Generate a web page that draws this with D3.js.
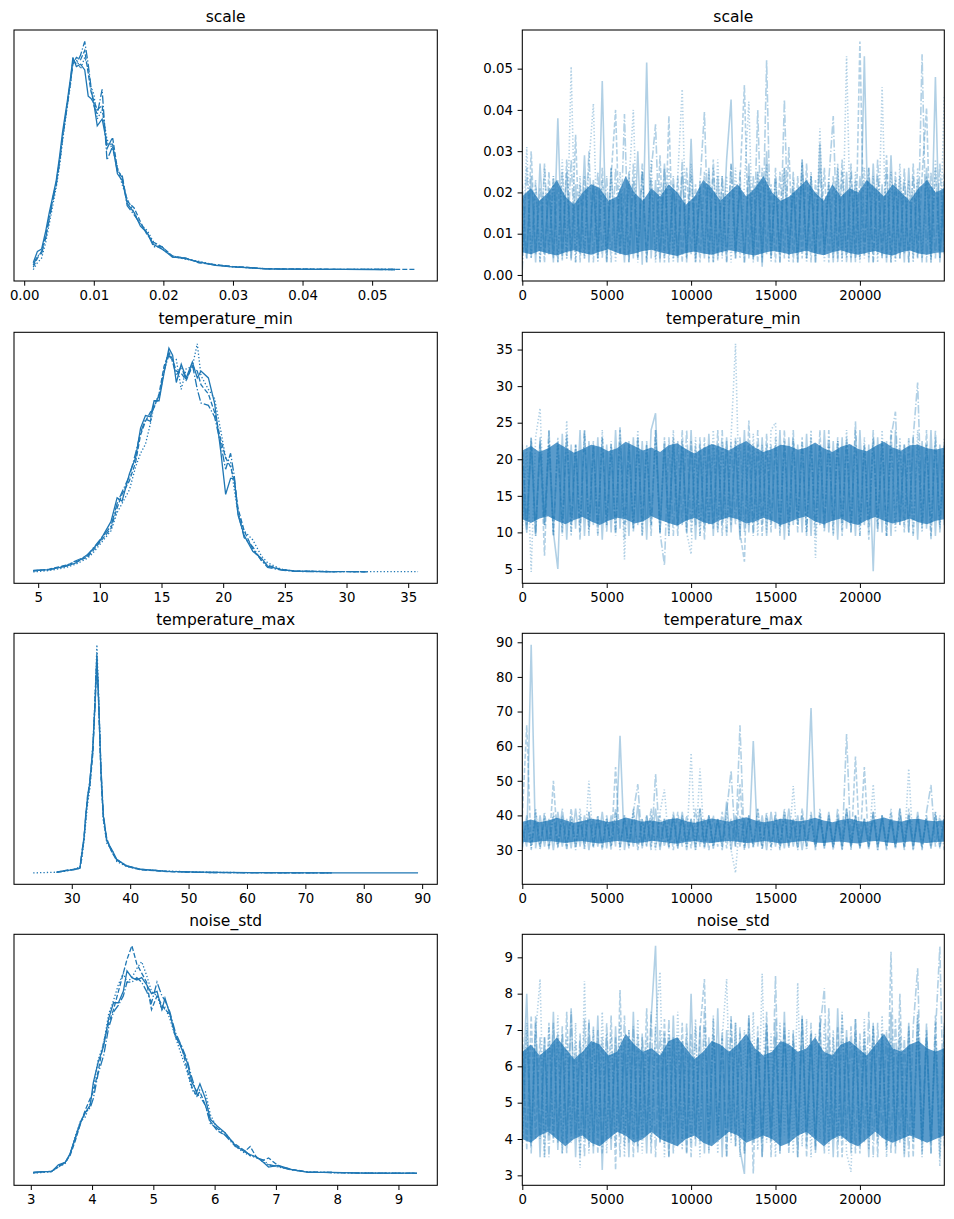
<!DOCTYPE html>
<html>
<head>
<meta charset="utf-8">
<script src="https://cdn.jsdelivr.net/npm/d3@7/dist/d3.min.js"></script>
<style>
  body { margin: 0; background: #fff; }
  svg text { font-family: "DejaVu Sans", sans-serif; fill: #000; }
</style>
</head>
<body>
<svg id="chart" width="954" height="1219"></svg>
<script>
// Trace plot: posterior KDE per chain (left) and sampled traces (right)

const chainDashes = [null, '5,2.1', '1.3,2.1', '8.4,2.1,1.3,2.1'];
const iterTicks = [0, 5000, 10000, 15000, 20000];
const nDraws = 24999;

// ---- scale ----
const scaleTicks = [0.00, 0.01, 0.02, 0.03, 0.04, 0.05];
const scaleKdeX = [0.0013, 0.0019, 0.0025, 0.0031, 0.0036, 0.0041, 0.0046, 0.0051, 0.0055, 0.0059, 0.0062, 0.0067, 0.0070, 0.0075, 0.0081, 0.0087, 0.0092, 0.0096, 0.0100, 0.0105, 0.0112, 0.0119, 0.0127, 0.0134, 0.0141, 0.0148, 0.0158, 0.0167, 0.0177, 0.0186, 0.0198, 0.0213, 0.0232, 0.0251, 0.0275, 0.0299, 0.0325, 0.0347, 0.0380, 0.0420, 0.0460, 0.0500, 0.0533, 0.0562];
const scaleKde = [
  [0.03, 0.08, 0.09, 0.17, 0.25, 0.32, 0.39, 0.50, 0.60, 0.68, 0.74, 0.85, 0.93, 0.89, 0.90, 0.875, 0.76, 0.75, 0.73, 0.63, 0.66, 0.55, 0.55, 0.42, 0.39, 0.29, 0.25, 0.19, 0.16, 0.11, 0.09, 0.056, 0.048, 0.034, 0.019, 0.012, 0.008, 0.003, 0.002, 0.001, 0.001, 0.0005, 0.0003, null],
  [0.01, 0.05, 0.08, 0.15, 0.23, 0.31, 0.38, 0.48, 0.58, 0.66, 0.73, 0.83, 0.90, 0.93, 0.92, 0.96, 0.86, 0.78, 0.74, 0.70, 0.72, 0.53, 0.58, 0.44, 0.40, 0.30, 0.27, 0.21, 0.15, 0.12, 0.10, 0.06, 0.05, 0.03, 0.022, 0.014, 0.009, 0.004, 0.003, 0.002, 0.001, 0.001, 0.0008, 0.0005],
  [0.0, 0.03, 0.05, 0.12, 0.20, 0.28, 0.36, 0.46, 0.56, 0.65, 0.72, 0.82, 0.91, 0.92, 0.88, 0.93, 0.88, 0.80, 0.77, 0.66, 0.70, 0.57, 0.53, 0.45, 0.37, 0.31, 0.25, 0.20, 0.17, 0.12, 0.09, 0.06, 0.045, 0.036, 0.02, 0.013, 0.007, 0.004, 0.002, 0.0015, 0.001, 0.0008, 0.0004, null],
  [0.02, 0.06, 0.07, 0.14, 0.22, 0.30, 0.37, 0.47, 0.57, 0.66, 0.72, 0.84, 0.92, 0.90, 0.94, 1.0, 0.90, 0.80, 0.72, 0.68, 0.79, 0.48, 0.54, 0.43, 0.41, 0.28, 0.24, 0.20, 0.16, 0.10, 0.10, 0.055, 0.05, 0.032, 0.02, 0.012, 0.008, 0.003, 0.002, 0.001, 0.001, 0.0006, 0.0003, null]
];
const scaleCoreLo = [0.0055, 0.005, 0.0058, 0.0052, 0.0047, 0.0055, 0.006, 0.0053, 0.0049, 0.0056, 0.0062, 0.0054, 0.0048, 0.0052, 0.0058, 0.0061, 0.0055, 0.005, 0.0046, 0.0053, 0.0057, 0.0052, 0.0049, 0.0055, 0.006, 0.0056, 0.0051, 0.0047, 0.0053, 0.0058, 0.0055, 0.005, 0.0054, 0.0059, 0.0052, 0.0048, 0.0055, 0.006, 0.0053, 0.0049, 0.0054, 0.0058, 0.0051, 0.0047, 0.0055, 0.0059, 0.0052, 0.0049, 0.0054, 0.0055];
const scaleCoreHi = [0.019, 0.021, 0.018, 0.020, 0.023, 0.019, 0.017, 0.020, 0.022, 0.021, 0.018, 0.019, 0.024, 0.020, 0.018, 0.021, 0.019, 0.022, 0.020, 0.017, 0.019, 0.023, 0.021, 0.018, 0.020, 0.022, 0.019, 0.021, 0.024, 0.020, 0.018, 0.019, 0.021, 0.023, 0.020, 0.018, 0.022, 0.019, 0.021, 0.020, 0.023, 0.021, 0.019, 0.022, 0.020, 0.018, 0.021, 0.023, 0.020, 0.021];
const scaleTrace = [
  [0.012, 0.004, 0.024, 0.003, 0.027, 0.005, 0.021, 0.003, 0.038, 0.004, 0.025, 0.0035, 0.022, 0.005, 0.029, 0.003,
   0.023, 0.004, 0.047, 0.003, 0.026, 0.005, 0.021, 0.003, 0.025, 0.004, 0.030, 0.0025, 0.0515, 0.004, 0.023, 0.003,
   0.027, 0.005, 0.022, 0.003, 0.025, 0.004, 0.033, 0.003, 0.021, 0.004, 0.026, 0.003, 0.024, 0.005, 0.028, 0.0425,
   0.004, 0.022, 0.003, 0.027, 0.004, 0.025, 0.002, 0.030, 0.004, 0.023, 0.003, 0.026, 0.005, 0.021, 0.003, 0.028,
   0.004, 0.024, 0.003, 0.032, 0.005, 0.022, 0.003, 0.026, 0.004, 0.025, 0.003, 0.023, 0.004, 0.053, 0.003, 0.027,
   0.005, 0.022, 0.003, 0.029, 0.004, 0.024, 0.003, 0.026, 0.004, 0.023, 0.003, 0.026, 0.004, 0.048, 0.003, 0.022],
  [0.022, 0.004, 0.030, 0.005, 0.021, 0.003, 0.025, 0.004, 0.023, 0.0035, 0.028, 0.004, 0.034, 0.003, 0.024, 0.005,
   0.022, 0.004, 0.026, 0.003, 0.024, 0.040, 0.005, 0.021, 0.003, 0.027, 0.004, 0.025, 0.003, 0.023, 0.004, 0.029,
   0.003, 0.0385, 0.004, 0.024, 0.003, 0.026, 0.005, 0.022, 0.003, 0.025, 0.004, 0.028, 0.0035, 0.024, 0.003, 0.027,
   0.004, 0.023, 0.046, 0.004, 0.024, 0.003, 0.026, 0.005, 0.022, 0.003, 0.025, 0.004, 0.031, 0.003, 0.024, 0.004,
   0.027, 0.003, 0.023, 0.005, 0.026, 0.003, 0.024, 0.004, 0.028, 0.003, 0.025, 0.004, 0.0566, 0.005, 0.026, 0.003,
   0.024, 0.004, 0.029, 0.003, 0.025, 0.004, 0.023, 0.003, 0.027, 0.004, 0.024, 0.0405, 0.003, 0.026, 0.004, 0.025],
  [0.003, 0.031, 0.004, 0.022, 0.003, 0.026, 0.005, 0.024, 0.003, 0.028, 0.004, 0.0505, 0.003, 0.024, 0.004, 0.027,
   0.0415, 0.003, 0.023, 0.004, 0.026, 0.003, 0.025, 0.005, 0.022, 0.040, 0.003, 0.025, 0.004, 0.028, 0.003, 0.022,
   0.004, 0.026, 0.003, 0.024, 0.045, 0.004, 0.027, 0.003, 0.023, 0.005, 0.025, 0.003, 0.028, 0.004, 0.024, 0.003,
   0.026, 0.004, 0.022, 0.042, 0.003, 0.025, 0.004, 0.027, 0.003, 0.024, 0.005, 0.026, 0.003, 0.023, 0.004, 0.028,
   0.003, 0.025, 0.004, 0.0355, 0.003, 0.024, 0.004, 0.027, 0.003, 0.053, 0.004, 0.025, 0.003, 0.026, 0.004, 0.024,
   0.003, 0.0455, 0.004, 0.025, 0.003, 0.027, 0.005, 0.023, 0.003, 0.026, 0.004, 0.024, 0.003, 0.028, 0.004, 0.0435],
  [0.0013, 0.026, 0.004, 0.023, 0.003, 0.027, 0.005, 0.024, 0.003, 0.025, 0.004, 0.028, 0.003, 0.022, 0.004, 0.030,
   0.003, 0.025, 0.004, 0.024, 0.003, 0.026, 0.005, 0.039, 0.003, 0.023, 0.004, 0.027, 0.003, 0.025, 0.0365, 0.004,
   0.026, 0.003, 0.024, 0.004, 0.028, 0.003, 0.025, 0.004, 0.022, 0.0395, 0.003, 0.026, 0.004, 0.024, 0.003, 0.027,
   0.005, 0.025, 0.003, 0.024, 0.004, 0.040, 0.003, 0.052, 0.004, 0.026, 0.003, 0.0425, 0.004, 0.025, 0.003, 0.027,
   0.004, 0.024, 0.003, 0.026, 0.005, 0.023, 0.0385, 0.003, 0.025, 0.004, 0.027, 0.003, 0.024, 0.004, 0.026, 0.003,
   0.028, 0.004, 0.025, 0.003, 0.023, 0.004, 0.026, 0.003, 0.024, 0.004, 0.0535, 0.003, 0.025, 0.004, 0.027, 0.005]
];

// ---- temperature_min ----
const tminTicks = [5, 10, 15, 20, 25, 30, 35];
const tminKdeX = [4.6, 5.9, 7.3, 8.1, 9.0, 9.4, 10.0, 10.9, 11.4, 11.8, 12.4, 12.9, 13.3, 13.7, 14.1, 14.4, 14.8, 15.2, 15.6, 15.9, 16.2, 16.6, 17.0, 17.5, 17.9, 18.2, 18.8, 19.3, 19.8, 20.2, 20.6, 20.9, 21.2, 21.7, 22.4, 23.1, 23.6, 24.7, 25.8, 29.1, 31.7, 35.8];
const tminKde = [
  [0.006, 0.01, 0.025, 0.04, 0.076, 0.098, 0.135, 0.22, 0.325, 0.31, 0.43, 0.50, 0.63, 0.685, 0.68, 0.75, 0.75, 0.87, 0.98, 0.95, 0.83, 0.91, 0.85, 0.92, 0.85, 0.88, 0.85, 0.74, 0.53, 0.34, 0.41, 0.41, 0.25, 0.16, 0.09, 0.06, 0.025, 0.01, 0.003, 0.0, null, null],
  [0.004, 0.012, 0.03, 0.045, 0.065, 0.09, 0.13, 0.19, 0.28, 0.34, 0.40, 0.48, 0.60, 0.66, 0.70, 0.72, 0.78, 0.90, 0.96, 0.93, 0.88, 0.87, 0.84, 0.90, 0.88, 0.82, 0.78, 0.70, 0.58, 0.50, 0.46, 0.40, 0.28, 0.18, 0.10, 0.05, 0.03, 0.01, 0.004, 0.001, 0.0005, null],
  [0.0, 0.006, 0.02, 0.035, 0.06, 0.08, 0.12, 0.18, 0.26, 0.30, 0.36, 0.46, 0.52, 0.56, 0.65, 0.73, 0.76, 0.88, 0.97, 0.92, 0.93, 0.80, 0.89, 0.90, 1.0, 0.86, 0.80, 0.76, 0.62, 0.50, 0.48, 0.36, 0.26, 0.18, 0.14, 0.07, 0.04, 0.012, 0.004, 0.001, 0.001, 0.001],
  [0.005, 0.01, 0.028, 0.05, 0.07, 0.10, 0.14, 0.20, 0.30, 0.35, 0.42, 0.52, 0.61, 0.67, 0.66, 0.74, 0.77, 0.88, 0.95, 0.92, 0.86, 0.90, 0.84, 0.91, 0.80, 0.74, 0.73, 0.68, 0.56, 0.45, 0.52, 0.42, 0.26, 0.15, 0.11, 0.05, 0.02, 0.008, 0.002, 0.001, 0.0005, null]
];
const tminCoreLo = [11.8, 11.3, 11.9, 12.2, 11.6, 11.1, 11.7, 12.1, 11.5, 11.0, 11.6, 12.0, 11.8, 11.2, 11.5, 12.2, 11.7, 11.3, 10.9, 11.6, 12.0, 11.4, 11.1, 11.7, 12.1, 11.8, 11.2, 11.5, 12.0, 11.6, 11.0, 11.4, 11.9, 12.2, 11.5, 11.1, 11.6, 11.9, 11.3, 11.0, 11.7, 12.1, 11.6, 11.2, 11.5, 11.9, 11.4, 11.1, 11.6, 11.8];
const tminCoreHi = [21.2, 21.8, 21.0, 21.5, 22.3, 21.6, 20.9, 21.4, 22.0, 21.7, 21.1, 21.5, 22.4, 21.8, 21.2, 21.6, 21.0, 21.9, 22.2, 21.4, 20.8, 21.5, 22.1, 21.7, 21.2, 21.9, 22.5, 21.6, 21.0, 21.4, 22.0, 21.8, 21.3, 21.6, 22.3, 21.5, 21.0, 21.7, 22.1, 21.4, 21.1, 21.8, 22.4, 21.6, 21.2, 21.9, 22.0, 21.5, 21.3, 21.6];
const tminTrace = [
  [16, 10, 22.5, 9.5, 23, 11, 22, 10, 5.0, 23.5, 9, 22, 10.5, 24, 9.5, 22.5,
   11, 23, 9, 22, 10, 24, 10.5, 22, 9.5, 23, 11, 22.5, 9, 24, 26.3, 10,
   22, 9.5, 23, 11, 22.5, 10, 24, 9, 22, 10.5, 23.5, 9.5, 22, 11, 23, 10,
   22.5, 9, 24, 10, 22, 11, 23, 9.5, 22, 10.5, 24, 9, 23, 11, 22, 10,
   23.5, 9.5, 22, 11, 24, 10, 22.5, 9, 23, 10.5, 22, 9.5, 24, 11, 22, 4.7,
   23, 10, 22.5, 9.5, 24, 11, 22, 10, 23, 9, 22.5, 10.5, 24, 9.5, 22, 11],
  [22, 11, 23, 10, 22.5, 6.8, 24, 9.5, 22, 11, 23.5, 10, 22, 9, 24, 10.5,
   22.5, 9.5, 23, 11, 22, 10, 24.5, 9, 22, 10.5, 23, 11, 22.5, 9.5, 24, 10,
   23, 11, 22, 9.5, 24, 10, 22.5, 11, 23, 9, 22, 10.5, 24, 9.5, 22.5, 11,
   23, 10, 6.0, 25.3, 10, 22, 9.5, 23.5, 11, 22, 10, 24, 9.5, 22.5, 11, 23,
   10, 22, 9.5, 24, 10.5, 22, 11, 23, 9.5, 22.5, 10, 24, 11, 22, 9, 23,
   10.5, 22.5, 9.5, 24, 11, 22, 10, 23, 9.5, 22, 10.5, 24, 9, 22.5, 11, 22],
  [10, 22, 4.6, 23, 27, 11, 22.5, 9.5, 23, 10, 25.3, 9.5, 22, 11, 23.5, 10,
   22, 9.5, 24, 11, 22.5, 10, 23, 6.3, 22, 10.5, 24, 9.5, 22, 11, 23, 10,
   22.5, 9.5, 24, 11, 22, 10, 7.0, 23, 9.5, 22, 11, 24, 10, 22.5, 9.5, 23,
   35.8, 10, 22, 11, 23.5, 9.5, 22, 10, 24, 25, 10.5, 22, 9.5, 23, 11, 22.5,
   10, 24, 6.5, 22, 11, 23, 9.5, 22.5, 10, 24, 11, 22, 9.5, 23, 10, 22.5,
   11, 24, 9.5, 22, 10, 23, 11, 22.5, 9.5, 24, 10, 22, 11, 23, 10.5, 23],
  [21, 10, 23, 9.5, 22, 11, 24, 10, 22.5, 9.5, 23, 11, 22, 10, 24, 9.5,
   22, 11, 23, 10, 22, 9.5, 24, 11, 22.5, 10, 23, 9.5, 22, 11, 24, 10,
   5.5, 23, 9.5, 22.5, 11, 24, 10, 22, 9.5, 23, 11, 22, 10, 24, 9.5, 22.5,
   11, 23, 10, 22, 9.5, 24, 11, 22, 10, 23, 9.5, 22.5, 11, 24, 10, 22,
   9.5, 23, 11, 22, 10, 24, 9.5, 22.5, 11, 23, 10, 25.2, 9.5, 22, 11, 24,
   10, 22.5, 9.5, 23, 26.5, 11, 22, 10, 23, 30.5, 11, 22, 9.5, 24, 10, 22]
];

// ---- temperature_max ----
const tmaxTicks = [30, 40, 50, 60, 70, 80, 90];
const tmaxKdeX = [23.4, 27.4, 29.1, 30.5, 31.4, 31.7, 32.1, 32.4, 32.7, 33.1, 33.6, 34.0, 34.3, 34.6, 35.0, 35.4, 36.0, 36.9, 37.7, 39.4, 41.7, 46.3, 52.0, 60.5, 74.8, 89.3];
const tmaxKde = [
  [null, 0.002, 0.01, 0.015, 0.022, 0.08, 0.15, 0.26, 0.32, 0.40, 0.55, 0.75, 0.94, 0.76, 0.45, 0.25, 0.14, 0.10, 0.06, 0.03, 0.016, 0.007, 0.003, 0.001, 0.0, 0.0],
  [null, 0.003, 0.012, 0.014, 0.02, 0.07, 0.16, 0.24, 0.34, 0.38, 0.52, 0.78, 0.96, 0.74, 0.42, 0.24, 0.15, 0.09, 0.055, 0.03, 0.014, 0.006, 0.002, 0.001, 0.0, null],
  [0.0, 0.003, 0.008, 0.018, 0.025, 0.06, 0.14, 0.22, 0.30, 0.37, 0.56, 0.77, 1.0, 0.78, 0.44, 0.23, 0.13, 0.10, 0.05, 0.028, 0.015, 0.008, 0.003, 0.001, null, null],
  [null, 0.002, 0.011, 0.016, 0.02, 0.09, 0.15, 0.25, 0.33, 0.41, 0.53, 0.74, 0.93, 0.75, 0.46, 0.26, 0.14, 0.09, 0.058, 0.032, 0.016, 0.007, 0.002, 0.0005, 0.0, null]
];
const tmaxCoreLo = [32.4, 32.1, 32.5, 32.7, 32.3, 32.0, 32.4, 32.6, 32.2, 31.9, 32.3, 32.6, 32.4, 32.0, 32.2, 32.7, 32.4, 32.1, 31.8, 32.3, 32.6, 32.2, 32.0, 32.4, 32.6, 32.4, 32.0, 32.2, 32.6, 32.3, 31.9, 32.2, 32.5, 32.7, 32.2, 32.0, 32.3, 32.5, 32.1, 31.9, 32.4, 32.6, 32.3, 32.0, 32.2, 32.5, 32.2, 32.0, 32.3, 32.4];
const tmaxCoreHi = [38.2, 38.8, 38.0, 38.5, 39.3, 38.6, 37.9, 38.4, 39.0, 38.7, 38.1, 38.5, 39.4, 38.8, 38.2, 38.6, 38.0, 38.9, 39.2, 38.4, 37.8, 38.5, 39.1, 38.7, 38.2, 38.9, 39.5, 38.6, 38.0, 38.4, 39.0, 38.8, 38.3, 38.6, 39.3, 38.5, 38.0, 38.7, 39.1, 38.4, 38.1, 38.8, 39.4, 38.6, 38.2, 38.9, 39.0, 38.5, 38.3, 38.6];
const tmaxTrace = [
  [36, 31, 89.3, 30.5, 40, 31, 39, 30, 41, 31, 39, 30.5, 42, 31, 40, 30,
   39, 31, 41, 30.5, 40, 31, 63, 30, 39, 31, 43, 30.5, 40, 31, 42, 30,
   39, 31, 40, 30.5, 41, 31, 39, 30, 42, 31, 40, 30.5, 39, 31, 44, 30,
   40, 31, 39, 30.5, 61.5, 31, 40, 30, 41, 31, 39, 30.5, 42, 31, 40, 30,
   39, 71, 31, 40, 30.5, 41, 31, 39, 30, 42, 31, 40, 30.5, 39, 31, 41,
   30, 40, 31, 39, 30.5, 42, 31, 40, 30, 41, 31, 39, 30.5, 40, 31, 39],
  [40, 66, 30, 41, 31, 39, 30.5, 50, 31, 40, 30, 42, 31, 39, 30.5, 41,
   31, 40, 30, 39, 31, 54, 30.5, 40, 31, 41, 30, 39, 31, 42, 30.5, 40,
   31, 39, 30, 41, 31, 40, 30.5, 42, 31, 39, 30, 40, 31, 41, 30.5, 39,
   31, 49, 30, 40, 31, 42, 30.5, 39, 31, 41, 30, 40, 31, 39, 30.5, 42,
   31, 40, 30, 41, 31, 39, 30.5, 40, 31, 42, 30, 57, 31, 54, 30.5, 40,
   31, 39, 30, 41, 31, 40, 30.5, 42, 31, 39, 30, 40, 31, 41, 30.5, 39],
  [31, 39, 30.5, 42, 31, 40, 30, 41, 31, 39, 30.5, 40, 31, 42, 30, 50,
   31, 40, 30.5, 39, 31, 41, 30, 40, 31, 42, 30.5, 39, 31, 40, 30, 41,
   47.5, 31, 39, 30.5, 40, 31, 58, 30, 53.5, 31, 40, 30.5, 39, 31, 41, 30,
   23.4, 40, 31, 39, 30.5, 42, 31, 40, 30, 39, 31, 41, 30.5, 48.5, 31, 40,
   30, 39, 31, 42, 30.5, 40, 31, 39, 30, 41, 31, 40, 30.5, 39, 31, 49,
   30, 40, 31, 42, 30.5, 39, 31, 53.5, 30, 40, 31, 39, 30.5, 41, 31, 40],
  [30.5, 40, 31, 39, 30, 41, 31, 40, 30.5, 42, 31, 39, 30, 40, 31, 41,
   30.5, 39, 31, 40, 30, 42, 31, 39, 30.5, 41, 49, 31, 40, 30, 52, 31,
   39, 30.5, 41, 31, 40, 30, 39, 31, 42, 30.5, 40, 31, 39, 30, 41, 53,
   31, 66, 30.5, 40, 31, 39, 30, 41, 31, 40, 30.5, 42, 31, 39, 30, 40,
   31, 41, 30.5, 39, 31, 40, 30, 42, 31, 63.5, 30.5, 40, 31, 39, 30, 41,
   31, 40, 30.5, 39, 31, 42, 30, 40, 31, 39, 30.5, 41, 48.8, 31, 40, 30]
];

// ---- noise_std ----
const noiseTicks = [3, 4, 5, 6, 7, 8, 9];
const noiseKdeX = [3.04, 3.18, 3.34, 3.45, 3.56, 3.64, 3.72, 3.81, 3.89, 3.97, 4.02, 4.10, 4.19, 4.27, 4.35, 4.43, 4.51, 4.57, 4.65, 4.73, 4.81, 4.89, 4.97, 5.06, 5.14, 5.19, 5.27, 5.36, 5.46, 5.55, 5.63, 5.71, 5.76, 5.85, 5.93, 6.04, 6.17, 6.34, 6.50, 6.58, 6.69, 6.80, 6.88, 7.04, 7.26, 7.53, 7.91, 8.46, 9.30];
const noiseKde = [
  [0.007, 0.01, 0.01, 0.04, 0.05, 0.088, 0.154, 0.227, 0.27, 0.30, 0.40, 0.49, 0.56, 0.68, 0.75, 0.75, 0.80, 0.89, 0.86, 0.85, 0.86, 0.83, 0.79, 0.80, 0.72, 0.77, 0.70, 0.61, 0.55, 0.49, 0.40, 0.36, 0.395, 0.33, 0.24, 0.21, 0.18, 0.124, 0.095, 0.085, 0.073, 0.05, 0.03, 0.037, 0.019, 0.007, 0.007, 0.003, 0.003],
  [0.005, 0.008, 0.012, 0.03, 0.05, 0.08, 0.14, 0.22, 0.28, 0.33, 0.36, 0.45, 0.58, 0.66, 0.72, 0.80, 0.88, 0.94, 1.0, 0.92, 0.88, 0.84, 0.72, 0.78, 0.74, 0.72, 0.70, 0.60, 0.56, 0.46, 0.38, 0.34, 0.36, 0.30, 0.23, 0.19, 0.17, 0.13, 0.10, 0.12, 0.07, 0.06, 0.07, 0.035, 0.02, 0.008, 0.006, 0.003, 0.002],
  [0.004, 0.006, 0.01, 0.03, 0.045, 0.085, 0.16, 0.23, 0.25, 0.31, 0.38, 0.50, 0.57, 0.70, 0.76, 0.83, 0.88, 0.84, 0.86, 0.90, 0.93, 0.87, 0.80, 0.78, 0.72, 0.73, 0.68, 0.60, 0.52, 0.45, 0.37, 0.34, 0.37, 0.36, 0.26, 0.20, 0.18, 0.12, 0.09, 0.08, 0.075, 0.05, 0.04, 0.03, 0.018, 0.008, 0.006, 0.004, 0.002],
  [0.006, 0.009, 0.011, 0.035, 0.05, 0.085, 0.15, 0.22, 0.27, 0.29, 0.33, 0.44, 0.52, 0.64, 0.71, 0.74, 0.78, 0.84, 0.84, 0.86, 0.84, 0.80, 0.75, 0.84, 0.78, 0.76, 0.71, 0.62, 0.56, 0.50, 0.42, 0.35, 0.34, 0.30, 0.22, 0.20, 0.17, 0.12, 0.10, 0.08, 0.07, 0.06, 0.04, 0.032, 0.017, 0.008, 0.006, 0.003, 0.003]
];
const noiseCoreLo = [4.0, 3.9, 4.1, 4.2, 4.0, 3.8, 4.0, 4.1, 3.9, 3.8, 4.0, 4.2, 4.1, 3.9, 4.0, 4.2, 4.0, 3.9, 3.8, 4.0, 4.1, 3.9, 3.8, 4.0, 4.2, 4.1, 3.9, 4.0, 4.1, 4.0, 3.8, 3.9, 4.1, 4.2, 4.0, 3.8, 4.0, 4.1, 3.9, 3.8, 4.0, 4.2, 4.0, 3.9, 4.0, 4.1, 4.0, 3.9, 4.0, 4.1];
const noiseCoreHi = [6.4, 6.6, 6.3, 6.5, 6.8, 6.5, 6.2, 6.4, 6.7, 6.6, 6.3, 6.4, 6.9, 6.6, 6.4, 6.5, 6.3, 6.7, 6.8, 6.5, 6.2, 6.4, 6.7, 6.6, 6.4, 6.6, 6.9, 6.5, 6.3, 6.4, 6.7, 6.6, 6.4, 6.5, 6.8, 6.4, 6.3, 6.6, 6.7, 6.5, 6.3, 6.6, 6.9, 6.5, 6.4, 6.6, 6.7, 6.5, 6.4, 6.5];
const noiseTrace = [
  [5, 8.0, 3.8, 7.2, 3.5, 6.8, 4.1, 7.5, 3.7, 6.9, 3.9, 7.6, 3.5, 6.7, 4.0, 7.2,
   3.6, 7.4, 3.15, 6.9, 3.7, 7.1, 4.1, 6.6, 3.5, 7.5, 3.8, 6.8, 3.6, 7.3, 9.32, 3.9,
   6.9, 3.5, 7.4, 3.8, 6.7, 3.6, 8.0, 4.0, 7.1, 3.6, 6.8, 3.9, 7.6, 3.5, 7.0, 4.1,
   7.2, 3.7, 3.04, 7.4, 3.9, 6.8, 3.5, 7.1, 4.0, 7.3, 3.6, 7.5, 3.8, 6.7, 3.5, 7.4,
   4.1, 6.9, 3.7, 7.2, 3.9, 6.8, 3.5, 7.6, 4.0, 7.0, 3.6, 7.3, 3.8, 6.7, 3.5, 7.1,
   4.1, 6.9, 3.7, 7.5, 3.8, 6.8, 3.5, 7.2, 4.0, 7.4, 3.6, 7.0, 3.9, 6.7, 3.5, 7.2],
  [7.0, 3.7, 7.4, 4.0, 6.8, 3.5, 7.2, 3.9, 6.9, 3.6, 7.5, 4.1, 6.7, 3.5, 7.3, 3.8,
   7.1, 3.6, 6.8, 4.0, 7.4, 3.15, 8.1, 3.8, 7.0, 3.5, 6.9, 4.1, 7.6, 3.6, 7.1, 3.9,
   7.3, 3.5, 6.8, 4.0, 7.2, 3.6, 6.9, 3.8, 7.0, 8.4, 3.7, 7.3, 4.1, 6.8, 3.5, 7.4,
   3.8, 6.9, 3.6, 7.2, 3.05, 7.1, 4.0, 7.5, 3.5, 6.8, 3.9, 7.2, 3.6, 7.0, 4.1, 7.3,
   3.5, 6.9, 3.8, 7.4, 3.6, 7.6, 4.0, 7.1, 3.5, 6.8, 3.9, 7.3, 3.6, 7.0, 4.1, 7.2,
   3.5, 6.9, 3.8, 9.15, 3.6, 8.0, 4.0, 7.1, 3.5, 7.2, 3.9, 6.8, 3.6, 7.4, 4.0, 7.1],
  [3.7, 7.2, 3.9, 6.9, 8.4, 3.5, 7.1, 4.0, 7.4, 3.6, 6.8, 3.9, 7.2, 3.2, 8.35, 3.6,
   7.0, 4.1, 7.5, 3.6, 6.9, 3.8, 7.2, 3.5, 7.0, 4.0, 7.3, 3.6, 6.8, 3.9, 7.1, 8.6,
   3.5, 7.0, 4.0, 7.5, 3.7, 6.9, 3.9, 7.3, 3.5, 7.1, 4.1, 7.4, 3.6, 6.8, 8.4, 3.9,
   7.2, 3.5, 7.0, 4.0, 7.5, 3.7, 8.55, 3.9, 6.9, 3.5, 7.2, 4.1, 7.0, 3.6, 8.3, 3.8,
   7.3, 3.5, 6.9, 4.0, 7.2, 3.6, 7.0, 3.9, 7.5, 3.6, 3.1, 6.9, 4.0, 7.3, 3.7, 7.1,
   3.9, 7.4, 3.5, 6.8, 4.1, 7.2, 3.6, 7.0, 3.9, 7.5, 3.5, 6.9, 4.0, 7.2, 3.25, 7.0],
  [3.9, 7.0, 3.6, 7.4, 4.0, 6.8, 3.5, 7.2, 3.9, 7.1, 3.6, 7.5, 4.1, 6.9, 3.5, 7.3,
   3.8, 7.0, 3.6, 7.2, 4.0, 6.8, 3.5, 7.4, 3.9, 7.1, 3.6, 6.9, 4.1, 7.5, 3.5, 7.0,
   3.8, 7.3, 3.6, 6.8, 4.0, 7.2, 3.5, 7.1, 3.9, 7.6, 3.6, 6.9, 4.1, 7.0, 3.5, 7.3,
   3.8, 7.1, 3.6, 7.4, 4.0, 6.8, 3.5, 7.2, 3.9, 8.5, 3.6, 7.0, 4.1, 6.9, 3.5, 7.3,
   3.8, 7.2, 3.6, 7.0, 8.15, 3.9, 6.8, 3.5, 7.4, 4.0, 7.1, 3.6, 6.9, 3.9, 7.5, 3.5,
   7.2, 4.0, 7.0, 3.6, 7.3, 3.9, 6.8, 3.5, 7.1, 8.7, 4.0, 7.2, 3.6, 6.9, 9.3, 3.8]
];

const params = [
  { name: 'scale', ticks: scaleTicks, fmt: d3.format('.2f'), kdeX: scaleKdeX, kde: scaleKde, trace: scaleTrace, lo: scaleCoreLo, hi: scaleCoreHi },
  { name: 'temperature_min', ticks: tminTicks, fmt: d3.format('d'), kdeX: tminKdeX, kde: tminKde, trace: tminTrace, lo: tminCoreLo, hi: tminCoreHi },
  { name: 'temperature_max', ticks: tmaxTicks, fmt: d3.format('d'), kdeX: tmaxKdeX, kde: tmaxKde, trace: tmaxTrace, lo: tmaxCoreLo, hi: tmaxCoreHi },
  { name: 'noise_std', ticks: noiseTicks, fmt: d3.format('d'), kdeX: noiseKdeX, kde: noiseKde, trace: noiseTrace, lo: noiseCoreLo, hi: noiseCoreHi }
];

// Layout
const rowTops = [30, 332.3, 633.3, 934.3];
const panelH = 251;
const leftX = 14, leftW = 423.3;
const rightX = 522.3, rightW = 422;
const tickLen = 4.7, tickPad = 4.7;
const color = '#1f77b4';

const svg = d3.select('#chart');

// matplotlib-like 5% margins around data
function padded(min, max) {
  const r = max - min;
  return [min - 0.05 * r, max + 0.05 * r];
}

function styleAxis(g) {
  g.select('.domain').remove();
  g.selectAll('.tick line').attr('stroke', '#000').attr('stroke-width', 1);
  g.selectAll('.tick text').style('font-size', '13.3px').attr('fill', '#000');
}

function frame(g, w, h) {
  g.append('rect')
    .attr('x', 0).attr('y', 0)
    .attr('width', w).attr('height', h)
    .attr('fill', 'none')
    .attr('stroke', '#000')
    .attr('stroke-width', 1.05);
}

function title(g, w, text) {
  g.append('text')
    .attr('x', w / 2)
    .attr('y', -8.3)
    .attr('text-anchor', 'middle')
    .style('font-size', '15.5px')
    .text(text);
}

params.forEach((p, row) => {
  const top = rowTops[row];
  const allVals = p.trace.flat();
  const valDomain = padded(d3.min(allVals), d3.max(allVals));

  // ---- left: KDE per chain ----
  const gl = svg.append('g').attr('transform', `translate(${leftX},${top})`);
  const x = d3.scaleLinear().domain(valDomain).range([0, leftW]);
  const kdeMax = d3.max(p.kde.flat().filter(v => v !== null));
  const y = d3.scaleLinear().domain(padded(0, kdeMax)).range([panelH, 0]);

  const kdeLine = d3.line()
    .defined(d => d !== null)
    .x((d, i) => x(p.kdeX[i]))
    .y(d => y(d));

  p.kde.forEach((chain, c) => {
    gl.append('path')
      .datum(chain)
      .attr('fill', 'none')
      .attr('stroke', color)
      .attr('stroke-width', 1.3)
      .attr('stroke-dasharray', chainDashes[c])
      .attr('d', kdeLine);
  });

  gl.append('g')
    .attr('transform', `translate(0,${panelH})`)
    .call(d3.axisBottom(x).tickValues(p.ticks).tickFormat(p.fmt).tickSize(tickLen).tickPadding(tickPad))
    .call(styleAxis);
  frame(gl, leftW, panelH);
  title(gl, leftW, p.name);

  // ---- right: traces ----
  const gr = svg.append('g').attr('transform', `translate(${rightX},${top})`);
  const clipId = `clip-${row}`;
  gr.append('clipPath').attr('id', clipId)
    .append('rect').attr('width', rightW).attr('height', panelH);

  const xi = d3.scaleLinear().domain([0, nDraws]).range([0, rightW]);
  const yv = d3.scaleLinear().domain(valDomain).range([panelH, 0]);
  const plot = gr.append('g').attr('clip-path', `url(#${clipId})`);

  // dense central band where the four chains overlap
  const band = d3.area()
    .x((d, i) => xi(i * nDraws / (p.lo.length - 1)))
    .y0((d, i) => yv(p.lo[i]))
    .y1((d, i) => yv(p.hi[i]));
  plot.append('path')
    .datum(p.lo)
    .attr('fill', '#5a9bcb')
    .attr('d', band);

  p.trace.forEach((chain, c) => {
    const traceLine = d3.line()
      .x((d, i) => xi(i * nDraws / (chain.length - 1)))
      .y(d => yv(d));
    plot.append('path')
      .datum(chain)
      .attr('fill', 'none')
      .attr('stroke', color)
      .attr('stroke-opacity', 0.35)
      .attr('stroke-width', 1.6)
      .attr('stroke-dasharray', chainDashes[c])
      .attr('d', traceLine);
  });

  gr.append('g')
    .attr('transform', `translate(0,${panelH})`)
    .call(d3.axisBottom(xi).tickValues(iterTicks).tickFormat(d3.format('d')).tickSize(tickLen).tickPadding(tickPad))
    .call(styleAxis);
  gr.append('g')
    .call(d3.axisLeft(yv).tickValues(p.ticks).tickFormat(p.fmt).tickSize(tickLen).tickPadding(tickPad))
    .call(styleAxis);
  frame(gr, rightW, panelH);
  title(gr, rightW, p.name);
});
</script>
</body>
</html>
